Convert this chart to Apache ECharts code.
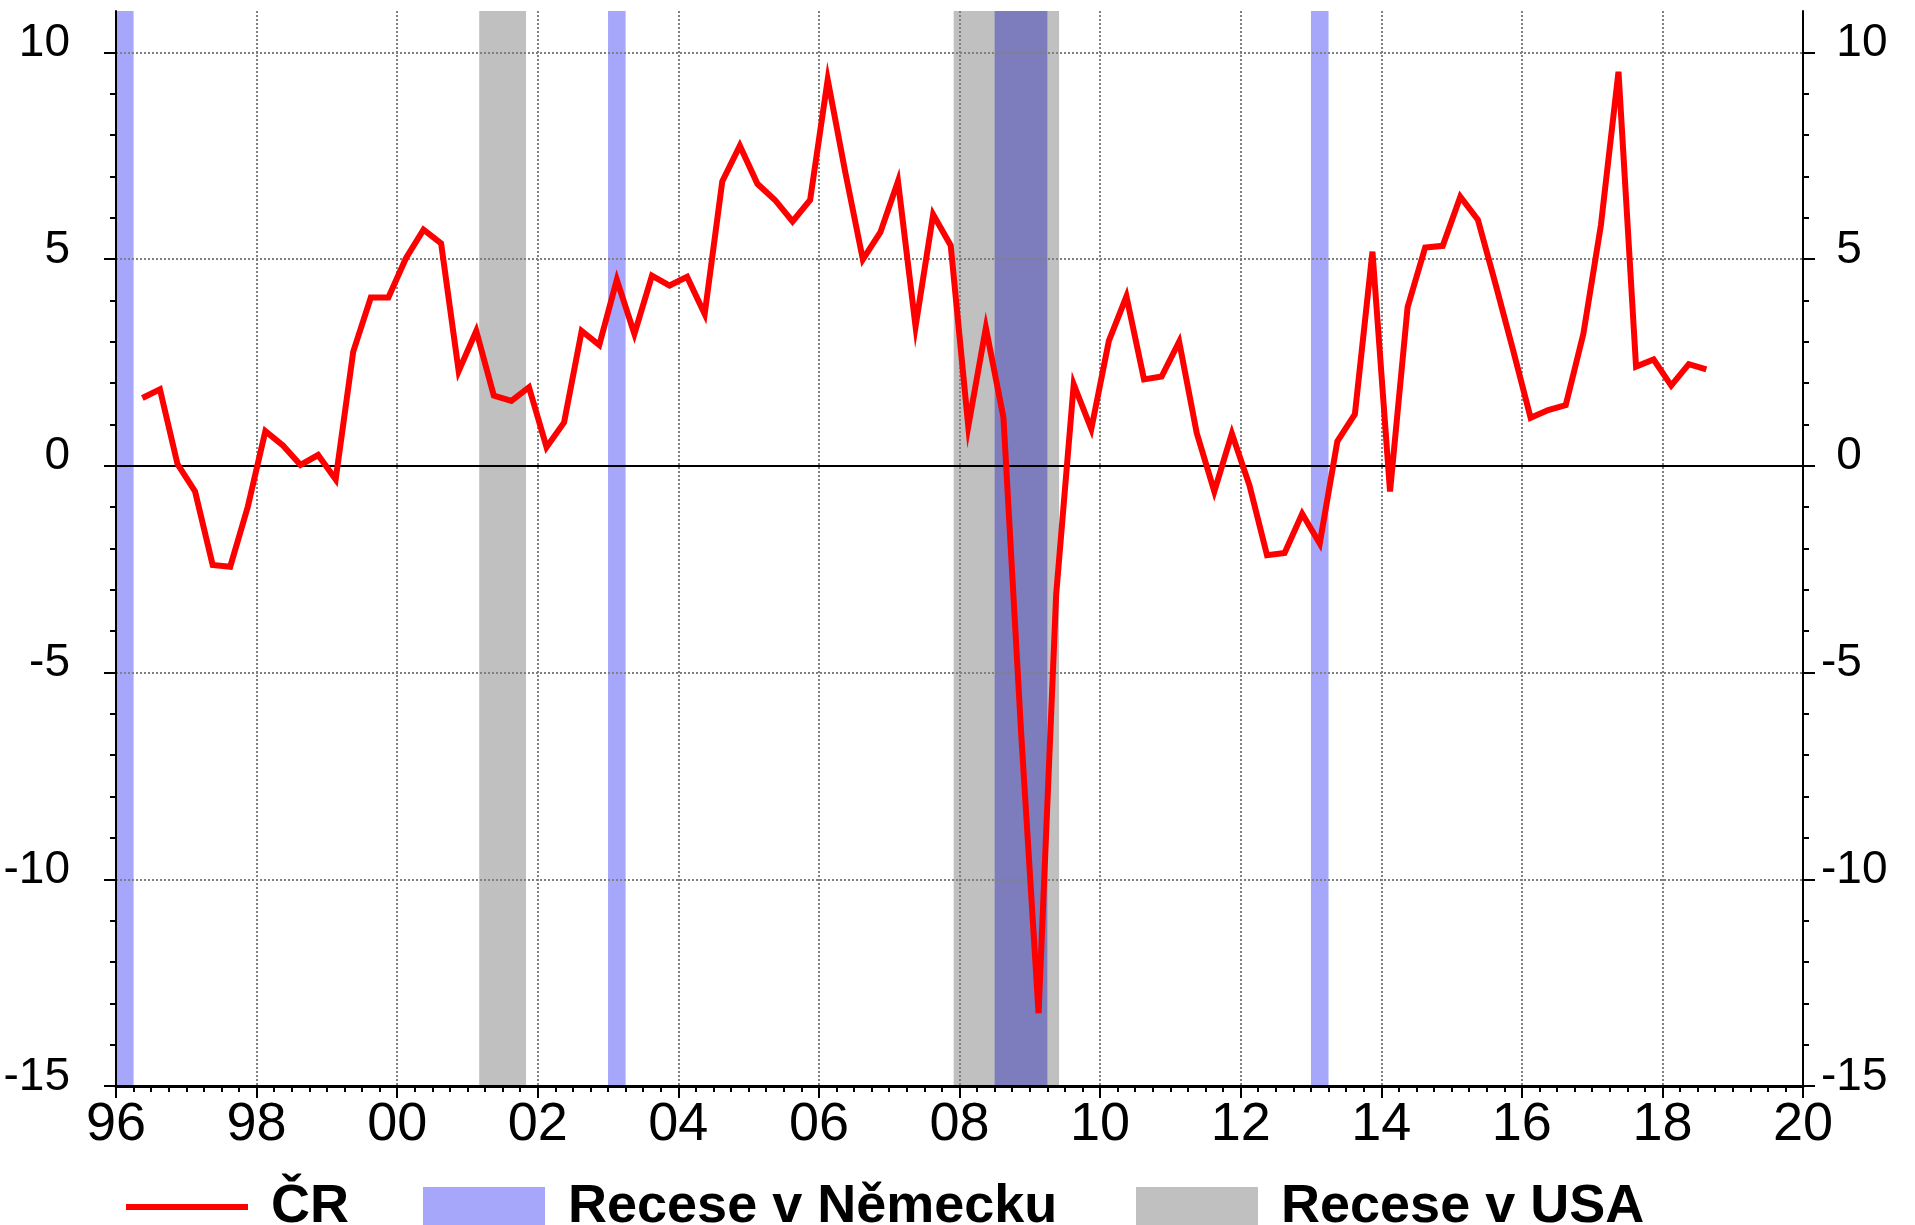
<!DOCTYPE html>
<html>
<head>
<meta charset="utf-8">
<title>HDP ČR a recese</title>
<script src="https://cdn.jsdelivr.net/npm/echarts@6/dist/echarts.min.js"></script>
<style>
html, body { margin: 0; padding: 0; background: #fff; }
#chart { width: 1915px; height: 1225px; }
</style>
</head>
<body>
<div id="chart"></div>
<script>
// HDP ČR, mezičtvrtletně anualizovaně (%), první hodnota = 2Q 1996
const firstQuarter = [1996, 2]
const gdpCR = [
    1.64, 1.85, 0.04,
    -0.62, -2.40, -2.44, -0.99,
    0.84, 0.49, 0.02, 0.26,
    -0.33, 2.76, 4.07, 4.07,
    5.02, 5.71, 5.38, 2.29,
    3.26, 1.70, 1.57, 1.90,
    0.45, 1.05, 3.26, 2.92,
    4.50, 3.19, 4.60, 4.36,
    4.57, 3.67, 6.88, 7.74,
    6.82, 6.43, 5.91, 6.43,
    9.34, 7.10, 4.99, 5.65,
    6.88, 3.37, 6.08, 5.33,
    0.95, 3.34, 1.17, -6.40,
    -13.24, -3.12, 1.97, 0.89,
    3.02, 4.10, 2.09, 2.16,
    3.00, 0.79, -0.62, 0.78,
    -0.47, -2.16, -2.11, -1.16,
    -1.88, 0.59, 1.25, 5.18,
    -0.62, 3.84, 5.28, 5.32,
    6.51, 5.95, 4.40, 2.80,
    1.16, 1.35, 1.47, 3.19,
    5.82, 9.53, 2.40, 2.57,
    1.94, 2.46, 2.33
]

// recese (začátek, konec) v letech
const recDE = [[1996.0, 1996.25], [2003.0, 2003.25], [2008.5, 2009.25], [2013.0, 2013.25]]
const recUS = [[2001.167, 2001.833], [2007.917, 2009.417]]

const yMajor = [-15, -10, -5, 0, 5, 10]
const yMinor = [-14, -13, -12, -11, -9, -8, -7, -6, -4, -3, -2, -1, 1, 2, 3, 4, 6, 7, 8, 9]

const colCR = '#ff0000'
const colDE = '#a6a6fa'
const colUS = '#c0c0c0'
const colBoth = '#7d7dbe'
const font = 'Liberation Sans, Arial, sans-serif'

const chartDom = document.getElementById('chart')
const myChart = echarts.init(chartDom, null, { width: 1915, height: 1225 })

const lineData = gdpCR.map((v, i) => {
    const q = firstQuarter[1] - 1 + i
    const year = firstQuarter[0] + Math.floor(q / 4)
    return [year + ((q % 4) + 0.5) / 4, v]
})

// nemecke recese rozdelene na cast mimo a v prekryvu s USA
const areasDE = []
recDE.forEach(([a, b]) => {
    let cuts = [[a, b, false]]
    recUS.forEach(([c, d]) => {
        const next = []
        cuts.forEach(([s, e, both]) => {
            if (both || d <= s || c >= e) { next.push([s, e, both]); return }
            if (c > s) next.push([s, c, false])
            next.push([Math.max(s, c), Math.min(e, d), true])
            if (d < e) next.push([d, e, false])
        })
        cuts = next
    })
    cuts.forEach(([s, e, both]) => {
        areasDE.push([{ xAxis: s, itemStyle: { color: both ? colBoth : colDE } }, { xAxis: e }])
    })
})
const areasUS = recUS.map(([a, b]) => [{ xAxis: a }, { xAxis: b }])

const labelRich = {
    v: { fontSize: 46, lineHeight: 50, fontFamily: font, color: '#000' },
    h: { fontSize: 46, lineHeight: 50, fontFamily: font, color: 'rgba(0,0,0,0)' },
    s: { fontSize: 2, lineHeight: 18 }
}

const yMain = (pos) => ({
    type: 'value',
    gridIndex: 0,
    position: pos,
    min: -15,
    max: 11,
    interval: 5,
    z: 3,
    axisLine: { show: true, onZero: false, lineStyle: { color: '#000', width: 2 } },
    axisTick: { show: true, customValues: yMajor, length: 12, lineStyle: { color: '#000', width: 2 } },
    axisLabel: {
        customValues: yMajor,
        margin: pos === 'left' ? 46 : 18,
        // popisek je o kus vyse nez carka, vpravo cislice zarovnane a minus predsazeny
        formatter: (v) => {
            const txt = pos === 'right' && v >= 0 ? '{h|-}{v|' + v + '}' : '{v|' + v + '}'
            return txt + '\n{s| }'
        },
        rich: labelRich
    },
    splitLine: {
        show: pos === 'left',
        lineStyle: { type: [2, 2], color: '#808080', width: 2 }
    }
})

const yMinorAxis = (pos) => ({
    type: 'value',
    gridIndex: 1,
    position: pos,
    min: -15,
    max: 11,
    interval: 1,
    z: 3,
    axisLine: { show: false, onZero: false },
    axisTick: { show: true, customValues: yMinor, length: 6, lineStyle: { color: '#000', width: 2 } },
    axisLabel: { show: false },
    splitLine: { show: false }
})

const legendBase = {
    top: 1180,
    padding: 0,
    itemWidth: 122,
    itemHeight: 40,
    selectedMode: false,
    textStyle: { fontFamily: font, fontWeight: 'bold', fontSize: 54, color: '#000', padding: [0, 0, 0, 18] }
}

const option = {
    animation: false,
    backgroundColor: '#fff',
    grid: [
        { left: 116, right: 112, top: 11, bottom: 139 },
        { left: 116, right: 112, top: 11, bottom: 139 }
    ],
    legend: [
        { ...legendBase, left: 126, itemHeight: 6, data: [{ name: 'ČR', icon: 'rect' }] },
        { ...legendBase, left: 423, data: [{ name: 'Recese v Německu', icon: 'rect' }] },
        { ...legendBase, left: 1136, data: [{ name: 'Recese v USA', icon: 'rect' }] }
    ],
    xAxis: [
        {
            type: 'value',
            gridIndex: 0,
            min: 1996,
            max: 2020,
            interval: 2,
            z: 3,
            axisLine: { show: true, onZero: false, lineStyle: { color: '#000', width: 3 } },
            axisTick: { show: true, length: 12, lineStyle: { color: '#000', width: 2 } },
            minorTick: { show: true, splitNumber: 8, length: 6, lineStyle: { color: '#000', width: 2 } },
            axisLabel: {
                formatter: (v) => String(v % 100).padStart(2, '0'),
                fontSize: 54,
                fontFamily: font,
                color: '#000',
                margin: 12
            },
            splitLine: { show: true, lineStyle: { type: [2, 2], color: '#808080', width: 2 } }
        },
        { type: 'value', gridIndex: 1, min: 1996, max: 2020, show: false }
    ],
    yAxis: [yMain('left'), yMain('right'), yMinorAxis('left'), yMinorAxis('right')],
    series: [
        {
            name: 'Recese v USA',
            type: 'line',
            data: [],
            itemStyle: { color: colUS },
            lineStyle: { color: colUS },
            markArea: { silent: true, z: 1, itemStyle: { color: colUS }, data: areasUS }
        },
        {
            name: 'Recese v Německu',
            type: 'line',
            data: [],
            itemStyle: { color: colDE },
            lineStyle: { color: colDE },
            markArea: { silent: true, z: 1.5, itemStyle: { color: colDE }, data: areasDE }
        },
        {
            name: 'nula',
            type: 'line',
            data: [],
            markLine: {
                silent: true,
                symbol: ['none', 'none'],
                label: { show: false },
                lineStyle: { color: '#000', width: 2, type: 'solid' },
                data: [{ yAxis: 0 }]
            }
        },
        {
            name: 'ČR',
            type: 'line',
            z: 10,
            data: lineData,
            symbol: 'none',
            itemStyle: { color: colCR },
            lineStyle: { color: colCR, width: 6, join: 'miter' }
        }
    ]
}

option && myChart.setOption(option)
</script>
</body>
</html>
